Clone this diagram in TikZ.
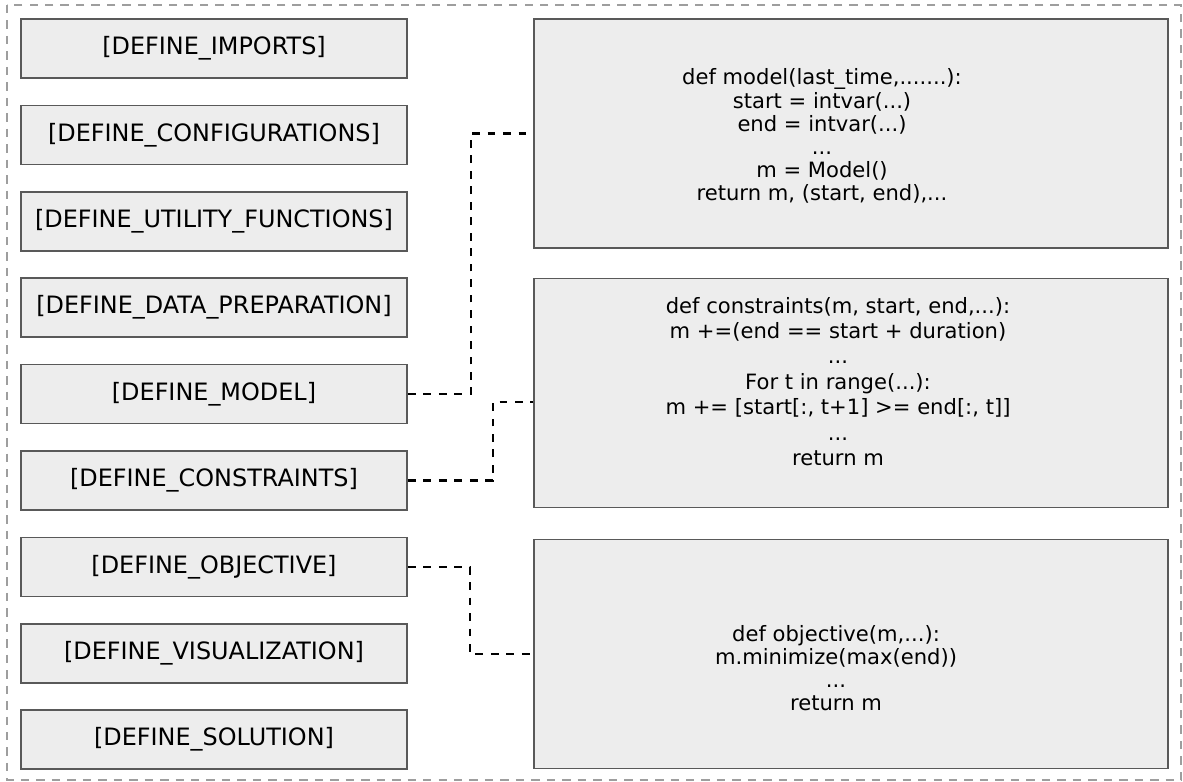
\documentclass[tikz,border=0pt]{standalone}
\usepackage{fontspec}
\setmainfont{DejaVu Sans}
\tikzset{
  tagbox/.style={draw=black!65, line width=1.2pt, fill=black!7, minimum width=9.65cm,
    minimum height=1.475cm, inner sep=0pt, font=\fontsize{17}{20}\selectfont},
  codebox/.style={draw=black!65, line width=1.2pt, fill=black!7, minimum width=15.85cm,
    minimum height=5.725cm},
  codetext/.style={align=center, inner sep=0pt, font=\fontsize{15}{16.4}\selectfont},
  link/.style={line width=1.6pt, dash pattern=on 5.5pt off 5.5pt},
}
\begin{document}
\begin{tikzpicture}[x=0.025cm, y=-0.025cm]
    \useasboundingbox (0, 0) rectangle (1183, 782);
    \draw[black!38, line width=1.5pt, dash pattern=on 6pt off 5pt] (7, 5) rectangle (1181, 780);

    % left column of tags
    \foreach \name/\tag [count=\i from 0] in {imports/IMPORTS, config/CONFIGURATIONS,
        util/UTILITY\_FUNCTIONS, data/DATA\_PREPARATION, model/MODEL, constr/CONSTRAINTS,
        objective/OBJECTIVE, visual/VISUALIZATION, solution/SOLUTION}
        \node[tagbox] (\name) at (214, {48.5 + 86.4*\i}) {[DEFINE\_\tag]};

    % code boxes
    \node[codebox] (codeA) at (851, 133.5) {};
    \node[codebox] (codeB) at (851, 393  ) {};
    \node[codebox] (codeC) at (851, 654  ) {};

    \node[codetext] (codeAtxt) at (822, 136) {def model(last\_time,.......):\\ start = intvar(...)\\
        end = intvar(...)\\ ...\\ m = Model()\\ return m, (start, end),...};
    \node[codetext, font=\fontsize{15}{18.1}\selectfont] (codeBtxt) at (838, 381.5)
        {def constraints(m, start, end,...):\\ m +=(end == start + duration)\\ ...\\
        For t in range(...):\\ m += [start[:, t+1] >= end[:, t]]\\ ...\\ return m};
    \node[codetext] (codeCtxt) at (836, 668) {def objective(m,...):\\
        m.minimize(max(end))\\ ...\\ return m};

    \draw[link] (model.east) -- ++(63, 0) |- (codeA.west);
    \draw[link] (constr.east) -- ++(85, 0) |- ([yshift=-0.225cm]codeB.west);
    \draw[link] (objective.east) -- ++(62, 0) |- (codeC.west);
\end{tikzpicture}
\end{document}
